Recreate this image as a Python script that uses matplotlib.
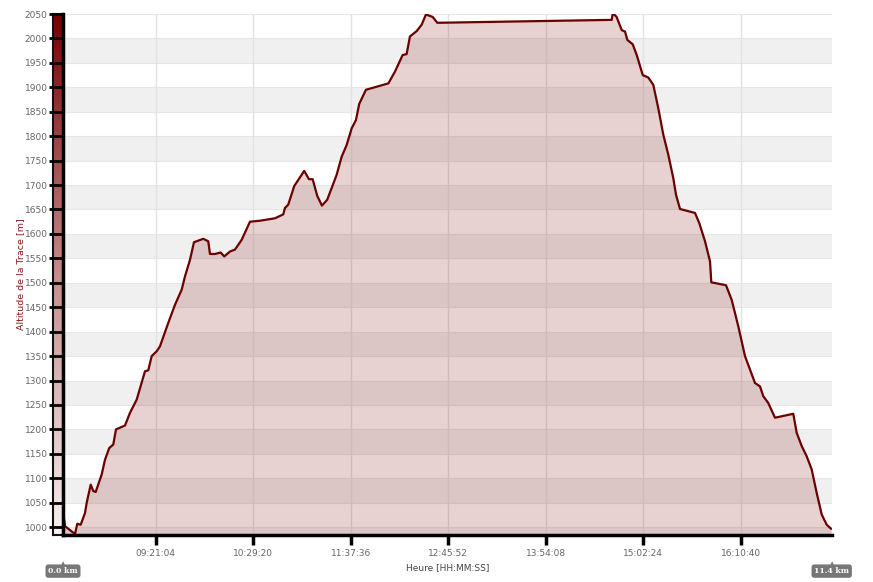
import numpy as np
import matplotlib.pyplot as plt
from matplotlib.colors import LinearSegmentedColormap

plt.rcParams['font.family'] = ['DejaVu Sans']

# heure (minutes depuis minuit) et altitude (m)
minutes = [496.4, 497.6, 504.6, 506.2, 508.6, 511.6, 512.8, 515.6, 517.4, 519.1,
           523.3, 525.6, 528.6, 531.4, 533.3, 539.6, 543.1, 547.8, 553.6, 555.9,
           558.3, 561.8, 564.1, 569.9, 574.6, 579.3, 581.6, 585.1, 587.9, 594.4,
           597.9, 599.1, 602.6, 606.6, 609.1, 613.1, 616.6, 621.3, 627.1, 634.1,
           644.6, 650.4, 651.6, 653.9, 658.1, 665.1, 668.4, 671.0, 674.2, 677.5,
           681.2, 687.8, 691.3, 694.8, 698.3, 701.3, 703.6, 708.3, 724.0, 728.6,
           734.0, 736.8, 739.1, 743.8, 747.3, 750.3, 755.0, 758.3, 880.4, 881.1,
           883.8, 887.4, 889.7, 891.3, 895.1, 897.9, 902.1, 906.0, 909.5, 913.0,
           916.5, 920.0, 923.5, 925.4, 928.2, 938.7, 941.7, 945.7, 949.2, 950.1,
           960.4, 964.4, 969.0, 973.7, 980.7, 984.2, 986.5, 990.0, 994.7, 1007.5,
           1009.9, 1013.4, 1016.9, 1020.4, 1023.9, 1027.4, 1030.9, 1033.9]
altitude = [1029, 1002, 986, 1007, 1005, 1029, 1050, 1087, 1074, 1072,
            1108, 1138, 1162, 1169, 1200, 1208, 1234, 1261, 1319, 1321,
            1350, 1360, 1370, 1418, 1455, 1486, 1513, 1547, 1583, 1590,
            1585, 1559, 1559, 1562, 1554, 1564, 1568, 1588, 1625, 1627,
            1632, 1640, 1653, 1660, 1698, 1729, 1712, 1712, 1678, 1658,
            1670, 1721, 1758, 1782, 1816, 1833, 1866, 1895, 1908, 1932,
            1966, 1968, 2004, 2015, 2028, 2049, 2044, 2032, 2038, 2052,
            2044, 2017, 2014, 1997, 1988, 1966, 1925, 1920, 1905, 1857,
            1803, 1762, 1714, 1680, 1651, 1643, 1622, 1585, 1544, 1501,
            1495, 1465, 1411, 1350, 1295, 1288, 1268, 1254, 1224, 1232,
            1193, 1166, 1145, 1118, 1070, 1026, 1005, 997]

x_start, x_end = 496.2, 1034.4
y_min, y_max = 984, 2050
first_tick = 561.07       # 09:21:04
tick_step = 68.267        # 01:08:16
dist_labels = ['0.0 km', '11.4 km']


def hms(m):
    s = int(round(m * 60))
    return '{:02d}:{:02d}:{:02d}'.format(s // 3600, (s % 3600) // 60, s % 60)


fig = plt.figure(figsize=(8.73, 5.82), dpi=100)
ax_l, ax_b, ax_w, ax_h = 63 / 873, 47 / 582, 768.7 / 873, 521 / 582

# barre de couleur a gauche
bar = fig.add_axes([ax_l - 10 / 873, ax_b, 10 / 873, ax_h])
bar.set_zorder(0)
cmap = LinearSegmentedColormap.from_list('alt', ['#f7f0f0', '#c88c8c', '#760000'])
bar.imshow(np.linspace(0, 1, 256).reshape(-1, 1), cmap=cmap, aspect='auto',
           origin='lower', extent=[0, 1, y_min, y_max])
bar.set_xticks([])
bar.set_yticks([])
for s in bar.spines.values():
    s.set_linewidth(1.5)
    s.set_color('#111111')

ax = fig.add_axes([ax_l, ax_b, ax_w, ax_h])
ax.set_zorder(1)
ax.patch.set_alpha(0)

# bandes horizontales
for lo in range(1050, 2000, 100):
    ax.axhspan(lo, lo + 50, color='#f0f0f0', zorder=0, lw=0)
ax.axhspan(y_min, 1000, color='#f0f0f0', zorder=0, lw=0)
for v in range(1000, 2051, 50):
    ax.axhline(v, color='#e6e6e6', lw=0.8, zorder=0.5)

ticks = [first_tick + i * tick_step for i in range(7)]
for t in ticks:
    ax.axvline(t, color='#e2e2e2', lw=1, zorder=0.5)

ax.fill_between(minutes, altitude, y_min, color='#8b1a1a', alpha=0.2, lw=0, zorder=1)
ax.plot(minutes, altitude, color='#6a0000', lw=1.6, zorder=2)

ax.set_xlim(x_start, x_end)
ax.set_ylim(y_min, y_max)
ax.set_yticks(range(1000, 2051, 50))
ax.set_xticks(ticks)
ax.set_xticklabels([hms(t) for t in ticks])

for s in ['top', 'right']:
    ax.spines[s].set_visible(False)
ax.spines['left'].set_linewidth(2.5)
ax.spines['bottom'].set_linewidth(2.5)
ax.tick_params(axis='y', length=10, width=2, pad=1, labelsize=6.5, labelcolor='#666666')
ax.tick_params(axis='x', length=7, width=2.5, pad=3, labelsize=6.5, labelcolor='#666666')

ax.set_ylabel('Altitude de la Trace [m]', color='#8b1a1a', fontsize=6.8, labelpad=0)
ax.set_xlabel('Heure [HH:MM:SS]', color='#444444', fontsize=6.5, labelpad=4)

# etiquettes de distance
box = dict(boxstyle='round,pad=0.35', fc='#777777', ec='none')
for xpos, lab in zip([x_start, x_end], dist_labels):
    ax.annotate(lab, xy=(xpos, y_min), xytext=(0, -26), textcoords='offset points',
                ha='center', va='center', color='white', fontsize=5.5, fontweight='bold',
                family='DejaVu Serif', bbox=box, annotation_clip=False)
    ax.annotate('\u25b2', xy=(xpos, y_min), xytext=(0, -20.5), textcoords='offset points',
                ha='center', va='center', color='#777777', fontsize=4,
                annotation_clip=False)

fig.savefig('out.png', dpi=100)
